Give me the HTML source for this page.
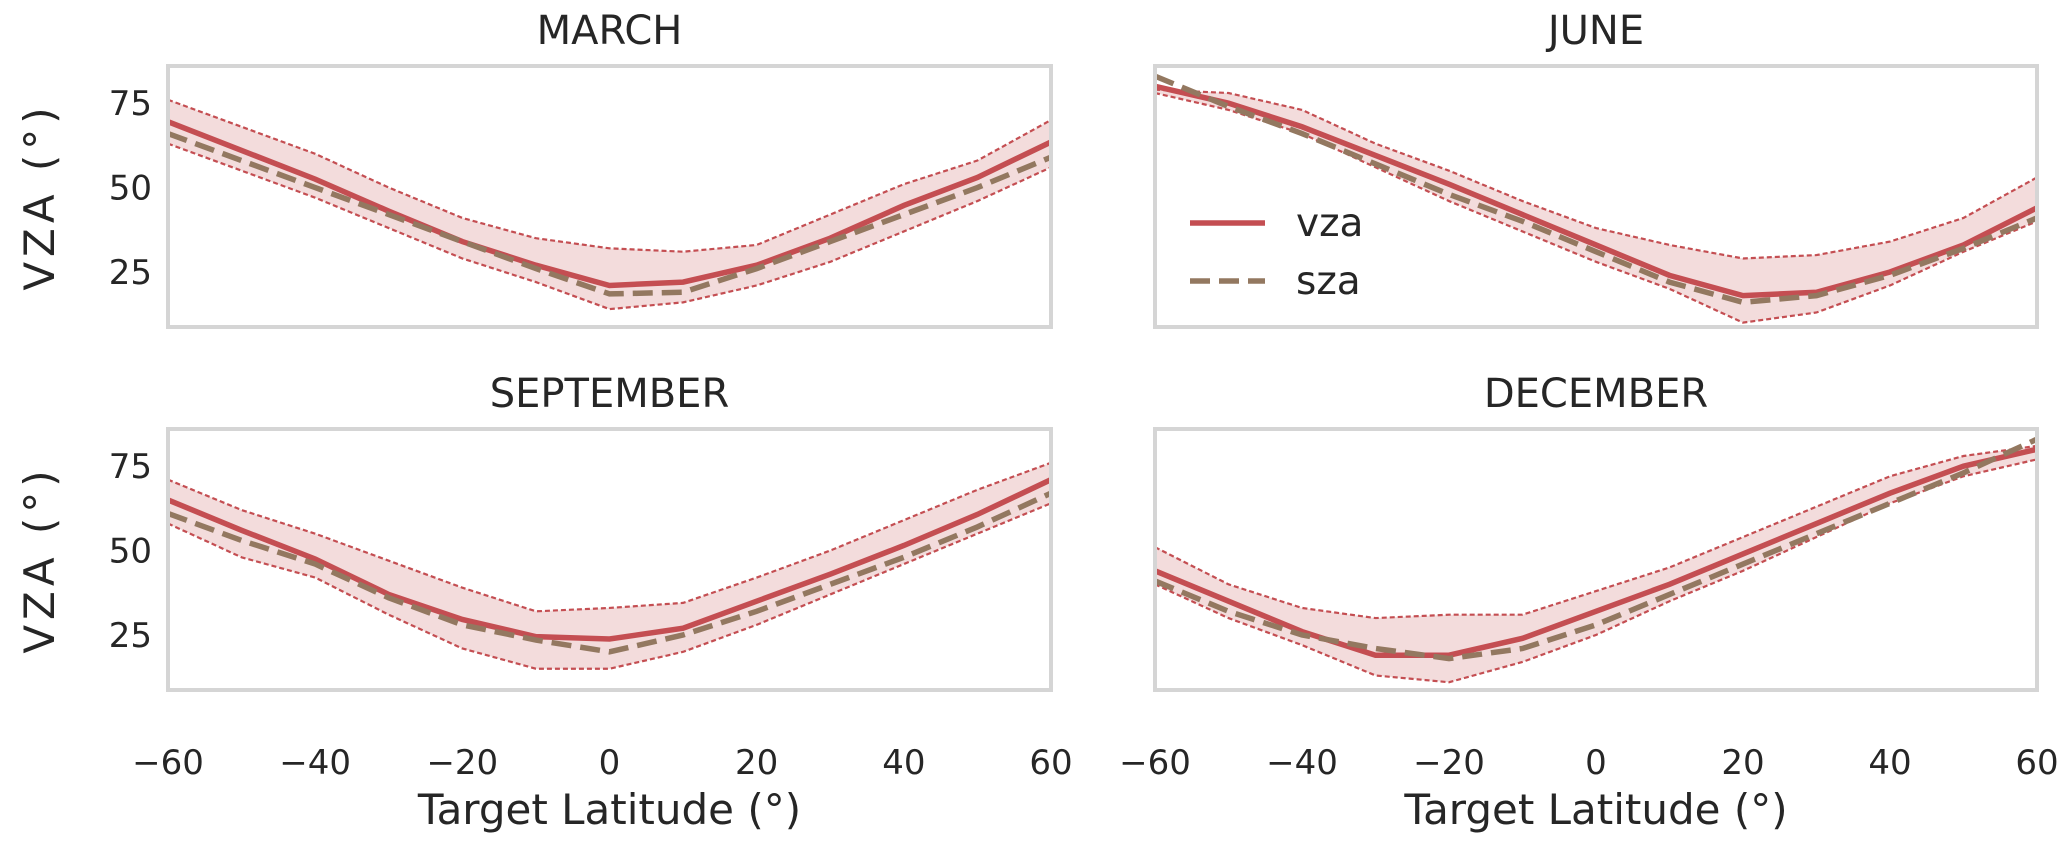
<!DOCTYPE html>
<html><head><meta charset="utf-8"><style>
body{margin:0;background:#fff;}
text{font-family:"DejaVu Sans","Liberation Sans",sans-serif;fill:#262626;}
</style></head><body>
<svg id="fig" width="2067" height="845" xmlns="http://www.w3.org/2000/svg"></svg>
<script>
const lats = [-60,-50,-40,-30,-20,-10,0,10,20,30,40,50,60];
const months = ["MARCH","JUNE","SEPTEMBER","DECEMBER"];
const vzaMar = [69.5,61,52.5,43,34,27,21,22,27,35,44.7,53,63.5];
const szaMar = [66,58,50,42,34,26,18.5,19,26,34,42,50,59];
const upMar  = [76,68,60,50,41,35,32,31,33,42,51,58,70];
const loMar  = [63,55,47,38,29,22,14,16,21,28,37,46,56];
const vzaJun = [80,75,68,59.5,51,42,33,24,18,19,25,33,44];
const szaJun = [83,74,66,57,48,40,31,22,16,18,24,32,41];
const upJun  = [79,78,73,63,55,46,38,33,29,30,34,41,53];
const loJun  = [78,73,66,56,46,37,28,20,10,13,21,31,40];
const vzaSep = [65,56,47.5,37,29.6,24.5,23.8,27,35,43,51.5,60.7,71];
const szaSep = [61,53,46,36,28,23.5,20,25,32,40,48,57,67];
const upSep  = [71,62,55,47,39,32,33,34.5,42,50,59,68,76];
const loSep  = [58,48,42,31,21,15,15,20,28,37,46,55,64];
const vzaDec = [44,35,26,19,19,24,32,40,49,58,67,75,80];
const szaDec = [41,32,25,21,18,21,28,37,46,55,64,73,83];
const upDec  = [51,40,33,30,31,31,38,45,54,63,72,78,81];
const loDec  = [40,30,22,13,11,17,25,35,44,54,64,72,77];
const yTicks = [25,50,75];
const xTicks = [-60,-40,-20,0,20,40,60];
const xTickLabels = ["\u221260","\u221240","\u221220","0","20","40","60"];

const panels = [
 {m:0,vza:vzaMar,sza:szaMar,up:upMar,lo:loMar,x0:168,x1:1051,y0:66,y1:327,left:true,bottom:false},
 {m:1,vza:vzaJun,sza:szaJun,up:upJun,lo:loJun,x0:1155,x1:2037,y0:66,y1:327,left:false,bottom:false},
 {m:2,vza:vzaSep,sza:szaSep,up:upSep,lo:loSep,x0:168,x1:1051,y0:429,y1:690,left:true,bottom:true},
 {m:3,vza:vzaDec,sza:szaDec,up:upDec,lo:loDec,x0:1155,x1:2037,y0:429,y1:690,left:false,bottom:true}
];
const svg=document.getElementById('fig');
const NS="http://www.w3.org/2000/svg";
function mk(tag,attrs,parent){const e=document.createElementNS(NS,tag);for(const k in attrs)e.setAttribute(k,attrs[k]);(parent||svg).appendChild(e);return e;}
const YMIN=8.7,YMAX=86;
panels.forEach(p=>{
  const g=mk('g',{});
  
  
  const sx=v=>p.x0+(v+60)/120*(p.x1-p.x0);
  const sy=v=>p.y1-(v-YMIN)/(YMAX-YMIN)*(p.y1-p.y0);
  let d='M'+lats.map((x,i)=>sx(x)+','+sy(p.up[i])).join('L')+'L'+lats.slice().reverse().map((x,i)=>sx(x)+','+sy(p.lo[lats.length-1-i])).join('L')+'Z';
  const band=mk('path',{d:d,fill:'rgba(196,78,82,0.2)',stroke:'none'},g);
  
  
  const line=(arr,attrs,name)=>{const e=mk('path',Object.assign({d:'M'+lats.map((x,i)=>sx(x)+','+sy(arr[i])).join('L'),fill:'none'},attrs),g);
    
    };
  line(p.up,{stroke:'#c44e52','stroke-width':2.2,'stroke-dasharray':'5,3'},'vza-upper-bound');
  line(p.lo,{stroke:'#c44e52','stroke-width':2.2,'stroke-dasharray':'5,3'},'vza-lower-bound');
  line(p.vza,{stroke:'#c44e52','stroke-width':5.5},'vza-line');
  line(p.sza,{stroke:'#937860','stroke-width':5.5,'stroke-dasharray':'20,9'},'sza-line');
  const fr=mk('rect',{x:p.x0,y:p.y0,width:p.x1-p.x0,height:p.y1-p.y0,fill:'none',stroke:'#d5d5d5','stroke-width':4},g);
  
  
  const t=mk('text',{x:(p.x0+p.x1)/2,y:p.y0-22,'text-anchor':'middle','font-size':40},g);
  t.textContent=months[p.m];
  
  
  if(p.left){
    yTicks.forEach(v=>{const e=mk('text',{x:152,y:sy(v)+12,'text-anchor':'end','font-size':34},g);e.textContent=v;
      
      });
    const cy=(p.y0+p.y1)/2;
    const yl=mk('text',{x:0,y:0,'text-anchor':'middle','font-size':42,'letter-spacing':5,transform:'translate(54,'+cy+') rotate(-90)'},g);
    yl.textContent='VZA (°)';
    
    
  }
  if(p.bottom){
    xTicks.forEach((v,i)=>{const e=mk('text',{x:sx(v),y:774,'text-anchor':'middle','font-size':34},g);e.textContent=xTickLabels[i];
      
      });
    const xl=mk('text',{x:(p.x0+p.x1)/2,y:824,'text-anchor':'middle','font-size':42},g);
    xl.textContent='Target Latitude (°)';
    
    
  }
});
const lg=mk('g',{});


const l1=mk('line',{x1:1190,x2:1265,y1:223,y2:223,stroke:'#c44e52','stroke-width':5.5},lg);


const t1=mk('text',{x:1296,y:236,'font-size':39},lg);t1.textContent='vza';


const l2=mk('line',{x1:1190,x2:1265,y1:281,y2:281,stroke:'#937860','stroke-width':5.5,'stroke-dasharray':'20,9'},lg);


const t2=mk('text',{x:1296,y:294,'font-size':39},lg);t2.textContent='sza';


</script>
</body></html>
